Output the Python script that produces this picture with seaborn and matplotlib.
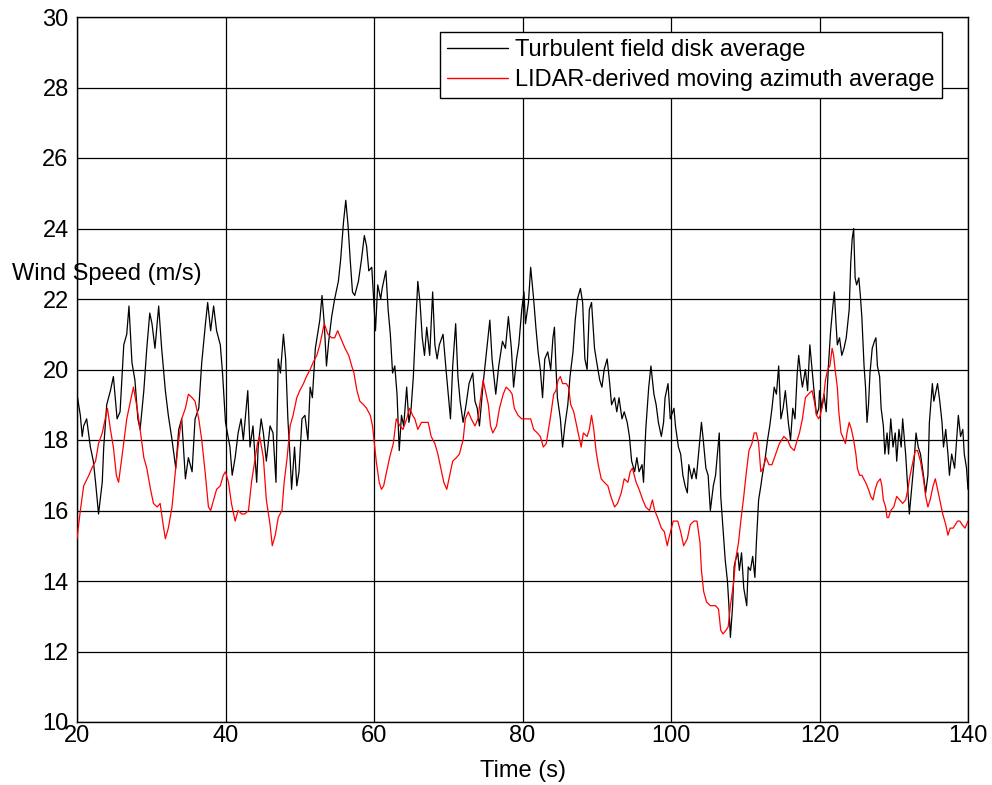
import matplotlib
matplotlib.use("Agg")
import matplotlib.pyplot as plt
import seaborn as sns
import pandas as pd

# ---- data ----
turb_t = [20.0, 20.45, 20.7, 20.9, 21.3, 21.8, 22.2, 22.5, 22.9, 23.4, 23.6, 24.0, 24.5, 24.9, 25.4, 25.8,
          26.3, 26.7, 27.0, 27.4, 27.8, 28.2, 28.5, 29.0, 29.4, 29.8, 30.1, 30.5, 31.0, 31.4, 31.9, 32.3,
          32.8, 33.3, 33.7, 34.1, 34.6, 35.0, 35.5, 35.9, 36.4, 36.8, 37.3, 37.6, 38.0, 38.4, 38.8, 39.3,
          39.6, 40.0,
          40.6, 40.9, 41.3, 41.7, 42.1, 42.4, 42.7, 43.0, 43.3, 43.7, 44.2, 44.4, 44.8, 45.1, 45.5, 46.0,
          46.4, 46.8, 47.1, 47.4, 47.8, 48.1, 48.4, 48.7, 48.9, 49.3, 49.6, 49.9, 50.3, 50.7, 51.1, 51.4,
          51.7, 52.1, 52.4, 52.7, 53.0, 53.3, 53.6, 53.9, 54.3, 54.7, 55.2, 55.5, 55.9, 56.2, 56.5, 56.8,
          57.1, 57.4, 57.9, 58.3, 58.7, 59.0, 59.3, 59.7, 60.0,
          60.2, 60.5, 60.9, 61.1, 61.6, 61.9, 62.2, 62.5, 62.8, 63.1, 63.4, 63.7, 64.0, 64.4, 64.7, 65.0,
          65.3, 65.6, 65.9, 66.2, 66.5, 66.8, 67.1, 67.5, 67.9, 68.2, 68.5, 68.8, 69.3, 69.7, 70.0, 70.3,
          70.6, 71.0, 71.3, 71.6, 72.0, 72.4, 72.8, 73.3, 73.6, 73.9, 74.2, 74.7, 75.1, 75.6, 75.9, 76.4,
          76.8, 77.3, 77.7, 78.1, 78.5, 78.8, 79.2, 79.5, 79.9,
          80.2, 80.4, 80.8, 81.1, 81.5, 81.8, 82.1, 82.4, 82.7, 83.0, 83.4, 83.8, 84.1, 84.3, 84.5, 84.7,
          85.1, 85.4, 85.7, 86.1, 86.4, 86.8, 87.1, 87.4, 87.8, 88.1, 88.4, 88.7, 89.0, 89.3, 89.7, 90.0,
          90.4, 90.7, 91.0, 91.4, 91.7, 92.0, 92.4, 92.7, 93.0, 93.4, 93.7, 94.1, 94.4, 94.7, 95.1, 95.4,
          95.7, 96.1, 96.3, 96.6, 97.0, 97.3, 97.7, 98.0, 98.3, 98.7, 99.0, 99.2, 99.6, 99.9,
          100.4, 100.6, 101.0, 101.3, 101.6, 101.9, 102.2, 102.4, 102.8, 103.1, 103.4, 103.8, 104.1, 104.3,
          104.7, 105.0, 105.3, 105.7, 106.0, 106.5, 106.7, 107.0, 107.3, 107.6, 107.8, 108.0, 108.3, 108.5,
          108.7, 109.0, 109.2, 109.5, 109.8, 110.2, 110.4, 110.7, 111.0, 111.3, 111.5, 111.8, 112.1, 112.3,
          112.7, 113.0, 113.3, 113.6, 113.9, 114.2, 114.5, 114.8, 115.1, 115.4, 115.8, 116.1, 116.4, 116.7,
          117.0, 117.2, 117.5, 117.7, 118.1, 118.4, 118.7, 119.0, 119.3, 119.6, 119.9,
          120.0, 120.3, 120.6, 120.9, 121.2, 121.5, 121.8, 122.0, 122.2, 122.4, 122.7, 123.0, 123.3, 123.6,
          124.0, 124.2, 124.4, 124.6, 124.8, 125.0, 125.3, 125.5, 125.7, 126.0, 126.2, 126.4, 126.6, 126.8,
          127.1, 127.4, 127.6, 127.8, 128.1, 128.3, 128.6, 128.8, 129.1, 129.3, 129.6, 129.9, 130.2, 130.4,
          130.7, 131.0, 131.2, 131.6, 131.9, 132.1, 132.4, 132.7, 133.0, 133.3, 133.6, 134.0, 134.3, 134.6,
          134.8, 135.2, 135.4, 135.6, 135.9, 136.2, 136.5, 136.7, 137.0, 137.3, 137.5, 137.8, 138.2, 138.4,
          138.7, 139.0, 139.3, 139.5, 139.8, 140.0]
turb_v = [19.3, 18.7, 18.1, 18.4, 18.6, 17.8, 17.4, 16.8, 15.9, 16.8, 17.8, 19.0, 19.4, 19.8, 18.6, 18.8,
          20.7, 21.0, 21.8, 20.2, 19.7, 18.6, 18.3, 19.4, 20.6, 21.6, 21.3, 20.6, 21.8, 20.6, 19.4, 18.7,
          18.0, 17.2, 18.3, 18.6, 16.9, 17.5, 17.1, 18.6, 18.9, 20.2, 21.3, 21.9, 21.1, 21.8, 21.1, 20.7,
          19.9, 18.5,
          17.8, 17.0, 17.5, 18.2, 18.6, 18.0, 18.7, 19.4, 17.8, 18.4, 16.8, 17.8, 18.6, 18.2, 17.4, 18.4,
          18.2, 16.8, 20.3, 19.9, 21.0, 20.3, 18.6, 17.5, 16.6, 17.8, 16.7, 17.1, 18.6, 18.7, 18.0, 19.5,
          19.2, 20.6, 21.0, 21.4, 22.1, 21.3, 20.1, 20.8, 21.5, 22.0, 22.5, 23.1, 24.2, 24.8, 24.1, 23.1,
          22.2, 22.1, 22.5, 23.1, 23.8, 23.5, 22.8, 22.9, 21.8,
          21.1, 22.4, 22.0, 22.3, 22.8, 21.7, 21.0, 19.9, 20.1, 19.3, 17.7, 18.7, 18.4, 19.5, 18.5, 18.9,
          19.8, 21.2, 22.5, 21.9, 20.9, 20.4, 21.2, 20.4, 22.2, 20.7, 20.3, 20.7, 21.0, 20.0, 19.3, 18.6,
          20.1, 21.3, 19.8, 19.1, 18.5, 19.0, 19.6, 19.9, 19.1, 18.9, 18.4, 19.6, 20.4, 21.4, 20.3, 19.3,
          20.1, 20.8, 20.6, 21.5, 20.6, 19.5, 20.3, 20.7, 21.7,
          22.2, 21.3, 21.9, 22.9, 22.0, 21.2, 20.5, 20.0, 19.2, 20.3, 20.5, 20.0, 20.9, 21.2, 20.1, 19.2,
          18.6, 17.8, 18.4, 19.0, 19.8, 20.5, 21.4, 22.0, 22.3, 21.9, 20.3, 20.0, 21.7, 21.9, 20.6, 20.2,
          19.7, 19.5, 20.0, 20.3, 19.7, 19.0, 19.2, 18.8, 19.2, 18.6, 18.8, 18.5, 18.1, 17.4, 17.1, 17.5,
          17.1, 17.3, 16.8, 18.3, 19.5, 20.1, 19.3, 19.0, 18.5, 18.1, 18.5, 19.2, 19.6, 18.6,
          18.9, 18.4, 17.8, 17.6, 17.0, 16.7, 16.5, 17.3, 16.9, 17.2, 16.9, 17.8, 18.5, 18.1,
          17.2, 17.0, 16.0, 16.7, 17.0, 18.2, 16.4, 15.5, 14.6, 14.0, 13.3, 12.4, 13.3, 14.4,
          14.6, 14.8, 14.3, 14.8, 13.8, 13.3, 14.4, 14.3, 14.7, 14.1, 15.1, 16.3, 16.7, 17.0,
          17.5, 18.0, 18.4, 18.9, 19.5, 19.3, 20.1, 18.6, 18.9, 19.4, 18.5, 18.0, 18.9, 18.6,
          19.9, 20.4, 19.8, 19.5, 20.0, 19.4, 20.7, 20.0, 19.3, 18.7, 18.9,
          19.4, 18.9, 19.3, 18.8, 20.1, 21.1, 21.8, 22.2, 21.4, 20.7, 20.9, 20.4, 20.6, 20.9,
          21.7, 23.0, 23.7, 24.0, 22.6, 22.4, 22.6, 22.1, 21.5, 20.1, 19.5, 18.5, 19.0, 19.9,
          20.6, 20.8, 20.9, 20.1, 19.8, 18.9, 18.4, 17.6, 18.2, 17.6, 18.6, 17.8, 18.2, 17.4,
          18.3, 17.8, 18.6, 17.6, 16.6, 15.9, 16.6, 17.3, 18.2, 17.8, 17.6, 17.0, 16.5, 17.0,
          18.5, 19.6, 19.1, 19.3, 19.6, 19.1, 18.5, 17.8, 18.3, 17.6, 17.0, 17.6, 17.2, 17.8,
          18.7, 18.1, 18.3, 17.6, 17.2, 16.6]

lidar_t = [20.0, 20.45, 20.9, 21.6, 22.0, 22.5, 22.9, 23.4, 23.8, 24.1, 24.5, 24.9, 25.3, 25.6, 26.1, 26.7,
           27.2, 27.6, 28.1, 28.5, 29.0, 29.4, 29.9, 30.3, 30.8, 31.2, 31.6, 31.9, 32.3, 32.8, 33.2, 33.7,
           34.1, 34.6, 35.0, 35.5, 35.9, 36.4, 36.8, 37.3, 37.7, 38.0, 38.4, 38.8, 39.3, 39.7, 40.0,
           40.4, 40.8, 41.3, 41.7, 42.2, 42.6, 43.1, 43.5, 44.0, 44.3, 44.6, 45.1, 45.5, 46.0, 46.3, 46.7,
           47.1, 47.6, 47.9, 48.3, 48.7, 49.1, 49.6, 50.0, 50.5, 50.9, 51.4, 51.8, 52.3, 52.7, 53.3, 53.8,
           54.3, 54.7, 55.1, 55.5, 56.1, 56.6, 57.0, 57.3, 57.7, 58.1, 58.6, 59.0, 59.5, 59.8, 60.0,
           60.3, 60.7, 61.0, 61.3, 61.7, 62.1, 62.6, 63.0, 63.5, 63.9, 64.4, 64.8, 65.2, 65.5, 65.9, 66.4,
           66.8, 67.3, 67.7, 68.2, 68.6, 69.1, 69.4, 69.8, 70.2, 70.6, 71.1, 71.5, 72.0, 72.3, 72.7, 73.1,
           73.6, 74.0, 74.3, 74.7, 75.1, 75.4, 75.7, 76.0, 76.5, 76.9, 77.4, 77.8, 78.3, 78.6, 78.9, 79.4,
           79.9,
           80.5, 81.1, 81.5, 82.0, 82.4, 82.8, 83.2, 83.5, 83.8, 84.2, 84.5, 84.8, 85.1, 85.4, 85.9, 86.2,
           86.5, 86.9, 87.2, 87.5, 87.9, 88.2, 88.7, 89.0, 89.3, 89.6, 89.9, 90.2, 90.6, 91.0, 91.5, 91.9,
           92.4, 92.8, 93.3, 93.7, 94.2, 94.5, 94.8, 95.3, 95.7, 96.2, 96.6, 97.1, 97.5, 97.8, 98.2, 98.7,
           99.1, 99.5,
           99.7, 100.3, 100.9, 101.3, 101.7, 102.2, 102.6, 103.1, 103.5, 103.9, 104.1, 104.4, 104.8, 105.3,
           106.0, 106.4, 106.7, 107.0, 107.4, 107.7, 108.0, 108.4, 108.7, 109.1, 109.4, 109.8, 110.1, 110.5,
           110.9, 111.2, 111.5, 111.8, 112.1, 112.4, 112.8, 113.2, 113.6, 114.1, 114.6, 115.2, 115.7, 116.1,
           116.6, 117.0, 117.3, 117.7, 118.1, 118.5, 119.0, 119.3, 119.6, 119.9,
           120.1, 120.5, 120.8, 121.1, 121.4, 121.7, 121.9, 122.1, 122.4, 122.6, 122.9, 123.3, 123.5, 123.7,
           124.0, 124.3, 124.6, 124.9, 125.1, 125.4, 125.7, 126.2, 126.6, 126.9, 127.2, 127.5, 127.8, 128.2,
           128.4, 128.6, 128.9, 129.1, 129.3, 129.6, 130.0, 130.4, 130.8, 131.2, 131.6, 131.9, 132.2, 132.6,
           132.9, 133.2, 133.6, 134.0, 134.3, 134.6, 134.9, 135.3, 135.6, 135.9, 136.3, 136.6, 137.0, 137.3,
           137.6, 138.0, 138.3, 138.6, 138.9, 139.2, 139.6, 140.0]
lidar_v = [15.2, 16.0, 16.7, 17.0, 17.2, 17.4, 17.9, 18.2, 18.6, 18.9, 18.3, 17.8, 17.0, 16.8, 17.6, 18.6,
           19.1, 19.5, 18.9, 18.3, 17.5, 17.2, 16.6, 16.2, 16.1, 16.2, 15.6, 15.2, 15.5, 16.1, 17.0, 18.0,
           18.6, 18.9, 19.3, 19.2, 19.1, 18.6, 18.0, 17.0, 16.1, 16.0, 16.3, 16.6, 16.7, 17.0, 17.1,
           16.8, 16.2, 15.7, 16.0, 15.9, 15.9, 16.0, 16.8, 17.5, 17.9, 18.1, 17.5, 16.3, 15.6, 15.0, 15.3,
           15.8, 16.0, 16.8, 17.5, 18.4, 18.7, 19.2, 19.4, 19.6, 19.8, 20.0, 20.2, 20.4, 20.7, 21.3, 21.0,
           20.9, 20.9, 21.1, 20.9, 20.6, 20.4, 20.1, 19.9, 19.4, 19.1, 19.0, 18.9, 18.7, 18.4, 18.0,
           17.4, 16.8, 16.6, 16.7, 17.1, 17.5, 17.9, 18.6, 18.4, 18.3, 18.6, 18.9, 18.7, 18.6, 18.3, 18.5,
           18.5, 18.5, 18.1, 17.9, 17.6, 17.1, 16.8, 16.6, 17.0, 17.4, 17.5, 17.6, 18.0, 18.6, 18.8, 18.6,
           18.4, 18.6, 19.1, 19.7, 19.3, 19.0, 18.4, 18.2, 18.4, 18.9, 19.3, 19.5, 19.4, 19.3, 18.9, 18.7,
           18.6,
           18.6, 18.6, 18.3, 18.2, 18.1, 17.8, 17.9, 18.3, 18.7, 19.3, 19.4, 19.7, 19.8, 19.6, 19.6, 19.5,
           19.0, 18.8, 18.5, 18.2, 17.8, 18.2, 18.1, 18.3, 18.7, 18.3, 17.7, 17.3, 16.9, 16.8, 16.7, 16.4,
           16.1, 16.2, 16.5, 16.9, 16.8, 17.1, 17.2, 16.8, 16.6, 16.3, 16.1, 16.0, 16.3, 16.0, 15.8, 15.5,
           15.4, 15.0,
           15.2, 15.7, 15.7, 15.4, 15.0, 15.2, 15.6, 15.7, 15.7, 15.1, 14.3, 13.7, 13.4, 13.3,
           13.3, 13.2, 12.6, 12.5, 12.6, 12.7, 13.3, 13.9, 14.6, 15.1, 15.7, 16.4, 17.0, 17.7,
           17.9, 18.2, 18.2, 17.9, 17.1, 17.2, 17.5, 17.3, 17.3, 17.6, 17.9, 18.1, 18.0, 17.8,
           17.7, 18.0, 18.2, 18.6, 19.2, 19.3, 19.4, 19.1, 18.7, 18.6,
           18.7, 19.1, 19.7, 20.0, 20.1, 20.6, 20.4, 20.0, 19.5, 18.8, 18.2, 18.0, 17.9, 18.2,
           18.5, 18.3, 18.0, 17.6, 17.2, 17.0, 17.0, 16.8, 16.6, 16.4, 16.3, 16.6, 16.8, 16.9,
           16.7, 16.3, 16.1, 15.8, 15.8, 16.0, 16.1, 16.4, 16.3, 16.2, 16.3, 16.6, 17.0, 17.4,
           17.7, 17.7, 17.4, 16.9, 16.4, 16.1, 16.3, 16.7, 16.9, 16.6, 16.2, 15.9, 15.6, 15.3,
           15.5, 15.5, 15.6, 15.7, 15.7, 15.6, 15.5, 15.7]

x_ticks = [20, 40, 60, 80, 100, 120, 140]
y_ticks = [10, 12, 14, 16, 18, 20, 22, 24, 26, 28, 30]
series_names = ["Turbulent field disk average", "LIDAR-derived moving azimuth average"]
x_label = "Time (s)"
y_label = "Wind Speed (m/s)"

# ---- styling ----
sns.set_style("white")
plt.rcParams["font.family"] = ["Liberation Sans", "DejaVu Sans"]
plt.rcParams["text.color"] = "black"
plt.rcParams["axes.labelcolor"] = "black"
plt.rcParams["xtick.color"] = "black"
plt.rcParams["ytick.color"] = "black"
FS = 17

fig = plt.figure(figsize=(9.92, 7.85), dpi=100)
ax = fig.add_axes([77 / 992, 1 - 722 / 785, (968 - 77) / 992, (722 - 17) / 785])

df_t = pd.DataFrame({"t": turb_t, "v": turb_v})
df_l = pd.DataFrame({"t": lidar_t, "v": lidar_v})

sns.lineplot(data=df_t, x="t", y="v", color="black", linewidth=0.9, estimator=None, sort=False,
             ax=ax, label=series_names[0], zorder=3)
sns.lineplot(data=df_l, x="t", y="v", color="#ff0000", linewidth=0.9, estimator=None, sort=False,
             ax=ax, label=series_names[1], zorder=3)

ax.set_xlim(20, 140)
ax.set_ylim(10, 30)
ax.set_xticks(x_ticks)
ax.set_yticks(y_ticks)
ax.set_xticklabels([str(v) for v in x_ticks], fontsize=FS, color="black")
ax.set_yticklabels([str(v) for v in y_ticks], fontsize=FS, color="black")
ax.tick_params(axis="both", length=0, colors="black")
ax.tick_params(axis="x", pad=2)
ax.tick_params(axis="y", pad=6)

ax.grid(True, color="black", linewidth=0.9, linestyle="-", zorder=1)
ax.set_axisbelow(True)
for s in ax.spines.values():
    s.set_color("black")
    s.set_linewidth(1.0)
    s.set_visible(True)

ax.set_xlabel(x_label, fontsize=FS, va="center", color="black")
ax.xaxis.set_label_coords(0.5, (722 - 771) / 705)
ax.set_ylabel(y_label, fontsize=FS, rotation=0, ha="center", va="center", color="black")
ax.yaxis.set_label_coords((107 - 77) / 891, (722 - 274) / 705)

leg = ax.legend(loc="upper right", bbox_to_anchor=((942 - 77) / 891, (722 - 32) / 705),
                fontsize=FS, frameon=True, fancybox=False, framealpha=1, edgecolor="black",
                handlelength=2.6, handletextpad=0.3, borderaxespad=0, borderpad=0.3,
                labelspacing=0.35)
leg.get_frame().set_linewidth(1.0)
for line in leg.get_lines():
    line.set_linewidth(1.0)
for txt in leg.get_texts():
    txt.set_color("black")

fig.savefig("out.png", dpi=100)
